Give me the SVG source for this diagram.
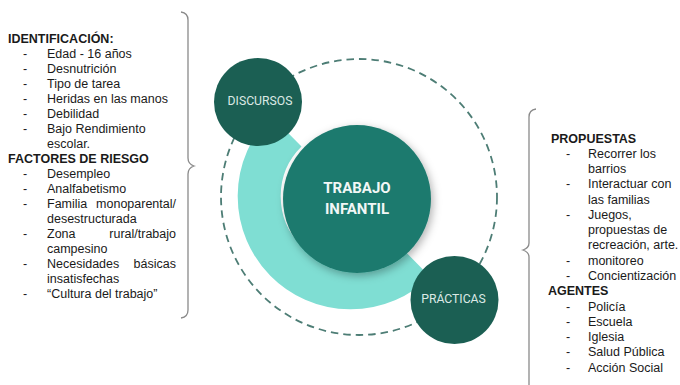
<svg xmlns="http://www.w3.org/2000/svg" width="680" height="385" viewBox="0 0 680 385">
<defs>
<style>
.t{font-family:"Liberation Sans",Arial,sans-serif;font-size:12.5px;fill:#1a1a1a}
.h{font-weight:bold}
.brace{fill:none;stroke:#8a8a8a;stroke-width:1.3}
.nt{font-family:Roboto,"Liberation Sans",sans-serif;font-size:12.2px;fill:#dbe9e5;text-anchor:middle}
.ct{font-family:Roboto,"Liberation Sans",sans-serif;font-size:15px;font-weight:bold;fill:#f2f7f6;text-anchor:middle}
.dark{fill:#1b5f53}
</style>
<filter id="sh" x="-30%" y="-30%" width="160%" height="160%">
<feDropShadow dx="2" dy="3" stdDeviation="4" flood-color="#000" flood-opacity="0.3"/>
</filter>
</defs>
<rect width="680" height="385" fill="#ffffff"/>

<g id="left-list">
<path class="brace" d="M181,12 Q188,13 188,20 L188,158 Q188,164 194,166 Q188,168 188,174 L188,310 Q188,317 181,318"/>
<text class="t h" x="8" y="43">IDENTIFICACIÓN:</text>
<g class="t">
<text x="23" y="58">-</text><text x="47" y="58">Edad - 16 años</text>
<text x="23" y="73">-</text><text x="47" y="73">Desnutrición</text>
<text x="23" y="88">-</text><text x="47" y="88">Tipo de tarea</text>
<text x="23" y="103">-</text><text x="47" y="103">Heridas en las manos</text>
<text x="23" y="118">-</text><text x="47" y="118">Debilidad</text>
<text x="23" y="133">-</text><text x="47" y="133">Bajo Rendimiento</text>
<text x="47" y="148">escolar.</text>
</g>
<text class="t h" x="8" y="163">FACTORES DE RIESGO</text>
<g class="t">
<text x="23" y="178">-</text><text x="47" y="178">Desempleo</text>
<text x="23" y="193">-</text><text x="47" y="193">Analfabetismo</text>
<text x="23" y="208">-</text><text x="47" y="208">Familia</text><text x="176" y="208" text-anchor="end">monoparental/</text>
<text x="47" y="223">desestructurada</text>
<text x="23" y="238">-</text><text x="47" y="238">Zona</text><text x="176" y="238" text-anchor="end">rural/trabajo</text>
<text x="47" y="253">campesino</text>
<text x="23" y="268">-</text><text x="47" y="268">Necesidades</text><text x="176" y="268" text-anchor="end">básicas</text>
<text x="47" y="283">insatisfechas</text>
<text x="23" y="298">-</text><text x="47" y="298">“Cultura del trabajo”</text>
</g>
</g>

<g id="right-list">
<path class="brace" d="M536,109 Q529,110 529,117 L529,243 Q529,248 523,250 Q529,252 529,257 L529,385"/>
<text class="t h" x="551" y="142.5">PROPUESTAS</text>
<g class="t">
<text x="566" y="157.8">-</text><text x="588" y="157.8">Recorrer los</text>
<text x="588" y="173">barrios</text>
<text x="566" y="188.3">-</text><text x="588" y="188.3">Interactuar con</text>
<text x="588" y="203.6">las familias</text>
<text x="566" y="218.9">-</text><text x="588" y="218.9">Juegos,</text>
<text x="588" y="234.1">propuestas de</text>
<text x="588" y="249.4">recreación, arte.</text>
<text x="566" y="264.7">-</text><text x="588" y="264.7">monitoreo</text>
<text x="566" y="279.9">-</text><text x="588" y="279.9">Concientización</text>
</g>
<text class="t h" x="548" y="295.2">AGENTES</text>
<g class="t">
<text x="566" y="310.5">-</text><text x="588" y="310.5">Policía</text>
<text x="566" y="325.7">-</text><text x="588" y="325.7">Escuela</text>
<text x="566" y="341">-</text><text x="588" y="341">Iglesia</text>
<text x="566" y="356.3">-</text><text x="588" y="356.3">Salud Pública</text>
<text x="566" y="371.5">-</text><text x="588" y="371.5">Acción  Social</text>
</g>
</g>

<g id="connectors">
<circle cx="359" cy="197" r="138" fill="none" stroke="#4d7d75" stroke-width="1.8" stroke-dasharray="7.5 5"/>
<path d="M415,261.4 A91.5,91.5 0 1 1 286.4,131.2" fill="none" stroke="#7fded3" stroke-width="43"/>
</g>

<g id="node-center">
<circle cx="357" cy="199" r="74" fill="#1d7a6e" filter="url(#sh)"/>
<text class="ct" x="357" y="193">TRABAJO</text>
<text class="ct" x="357" y="213.5">INFANTIL</text>
</g>

<g id="node-discursos">
<circle class="dark" cx="258" cy="102" r="44"/>
<text class="nt" x="260" y="104.5">DISCURSOS</text>
</g>

<g id="node-practicas">
<circle class="dark" cx="454.5" cy="300" r="44"/>
<text class="nt" x="453.5" y="302.5">PRÁCTICAS</text>
</g>
</svg>
